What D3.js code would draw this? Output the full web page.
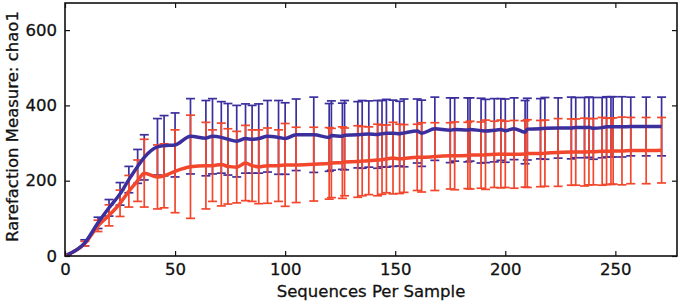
<!DOCTYPE html>
<html>
<head>
<meta charset="utf-8">
<script src="https://cdn.jsdelivr.net/npm/d3@7"></script>
<style>
  body { margin: 0; background: #fff; }
  text { font-family: "DejaVu Sans", sans-serif; fill: #111; }
</style>
</head>
<body>
<div id="chart-area"></div>
<script>
// data
const depths = [1, 9, 15, 20, 25, 29, 33, 36, 42, 45, 50, 57, 64, 67, 71, 74, 78, 82, 85, 88,
  92, 97, 100, 105, 113, 120, 121, 126, 127, 133, 135, 138, 142, 144, 146, 149, 152, 154, 160, 162,
  168, 175, 177, 183, 184, 189, 191, 195, 198, 200, 204, 209, 210, 216, 218, 224, 230, 232, 236, 238,
  240, 244, 246, 248, 249, 253, 257, 264, 271]

const blueMean = [3, 35, 88, 128, 165, 203, 238, 262, 290, 293, 295, 318, 313, 318, 315, 310, 305, 312, 310, 312,
  318, 315, 312, 322, 322, 315, 320, 318, 321, 322, 323, 324, 323, 325, 326, 326, 325, 327, 332, 326,
  338, 334, 336, 335, 336, 333, 332, 334, 336, 333, 338, 329, 337, 338, 339, 340, 340, 341, 341, 342,
  339, 341, 343, 343, 343, 343, 344, 344, 344]
const blueErr = [2, 8, 15, 22, 30, 35, 45, 60, 75, 80, 85, 100, 100, 100, 95, 95, 95, 92, 90, 92,
  95, 98, 95, 95, 100, 90, 92, 88, 92, 88, 90, 88, 90, 88, 90, 88, 86, 90, 85, 88,
  84, 86, 84, 85, 84, 86, 84, 84, 82, 84, 82, 84, 82, 80, 82, 80, 82, 80, 80, 80,
  82, 80, 80, 80, 80, 80, 78, 78, 78]

const redMean = [3, 33, 80, 108, 140, 172, 200, 220, 210, 213, 225, 237, 240, 240, 243, 238, 236, 247, 240, 237,
  240, 240, 242, 242, 244, 246, 247, 248, 250, 251, 252, 253, 255, 256, 258, 260, 258, 259, 262, 262,
  264, 266, 266, 267, 268, 268, 269, 270, 271, 270, 270, 271, 272, 272, 273, 275, 276, 276, 276, 277,
  277, 278, 278, 278, 279, 279, 280, 280, 281]
const redErr = [2, 6, 15, 28, 35, 42, 55, 90, 85, 85, 110, 137, 115, 95, 110, 100, 95, 100, 95, 98,
  100, 95, 110, 100, 98, 95, 92, 95, 90, 95, 92, 90, 95, 92, 90, 95, 92, 90, 88, 92,
  90, 88, 90, 88, 90, 88, 92, 88, 90, 88, 90, 88, 90, 88, 88, 90, 88, 88, 90, 88,
  88, 90, 88, 88, 88, 90, 88, 88, 87]

const xTicks = [0, 50, 100, 150, 200, 250]
const yTicks = [0, 200, 400, 600]

const W = 685, H = 304
const MARGIN = { LEFT: 65, RIGHT: 8, TOP: 3, BOTTOM: 48 }
const WIDTH = W - MARGIN.LEFT - MARGIN.RIGHT
const HEIGHT = H - MARGIN.TOP - MARGIN.BOTTOM

const BLUE = "#3b2f9e"
const RED = "#f2472c"

const svg = d3.select("#chart-area").append("svg")
  .attr("width", W)
  .attr("height", H)

const g = svg.append("g")
  .attr("transform", `translate(${MARGIN.LEFT}, ${MARGIN.TOP})`)

const x = d3.scaleLinear().domain([0, 278]).range([0, WIDTH])
const y = d3.scaleLinear().domain([0, 672]).range([HEIGHT, 0])

function series(mean, err) {
  return depths.map((d, i) => ({ d: d, m: mean[i], e: err[i] }))
}
const blue = series(blueMean, blueErr)
const red = series(redMean, redErr)

g.append("clipPath").attr("id", "clip")
  .append("rect").attr("width", WIDTH).attr("height", HEIGHT)

const plot = g.append("g").attr("clip-path", "url(#clip)")

function errorBars(data, color) {
  const eb = plot.append("g").attr("stroke", color).attr("stroke-width", 1.7).attr("fill", "none")
  const cap = 4.5
  data.forEach(p => {
    eb.append("line").attr("x1", x(p.d)).attr("x2", x(p.d))
      .attr("y1", y(p.m - p.e)).attr("y2", y(p.m + p.e))
    eb.append("line").attr("x1", x(p.d) - cap).attr("x2", x(p.d) + cap)
      .attr("y1", y(p.m + p.e)).attr("y2", y(p.m + p.e))
    eb.append("line").attr("x1", x(p.d) - cap).attr("x2", x(p.d) + cap)
      .attr("y1", y(p.m - p.e)).attr("y2", y(p.m - p.e))
  })
}

const line = d3.line().x(p => x(p.d)).y(p => y(p.m)).curve(d3.curveMonotoneX)

errorBars(blue, BLUE)
errorBars(red, RED)

plot.append("path").datum(red)
  .attr("d", line).attr("fill", "none").attr("stroke", RED).attr("stroke-width", 3.5)
plot.append("path").datum(blue)
  .attr("d", line).attr("fill", "none").attr("stroke", BLUE).attr("stroke-width", 3.5)

// axes, ticks pointing inward on all four sides
const tl = 5
g.append("g").attr("transform", `translate(0, ${HEIGHT})`)
  .call(d3.axisBottom(x).tickValues(xTicks).tickSizeInner(-tl).tickSizeOuter(0).tickPadding(7))
g.append("g")
  .call(d3.axisTop(x).tickValues(xTicks).tickSizeInner(-tl).tickSizeOuter(0).tickFormat(""))
g.append("g")
  .call(d3.axisLeft(y).tickValues(yTicks).tickSizeInner(-tl).tickSizeOuter(0).tickPadding(8))
g.append("g").attr("transform", `translate(${WIDTH}, 0)`)
  .call(d3.axisRight(y).tickValues(yTicks).tickSizeInner(-tl).tickSizeOuter(0).tickFormat(""))

g.selectAll(".domain").remove()
g.selectAll(".tick line").attr("stroke", "#111").attr("stroke-width", 1.2)
g.selectAll(".tick text")
  .attr("font-family", "DejaVu Sans, sans-serif")
  .attr("font-size", "16.5px")
  .attr("fill", "#111")
  .attr("stroke", "#111").attr("stroke-width", 0.3)

g.append("rect")
  .attr("width", WIDTH).attr("height", HEIGHT)
  .attr("fill", "none").attr("stroke", "#111").attr("stroke-width", 1.6)

// labels
g.append("text")
  .attr("x", WIDTH / 2)
  .attr("y", HEIGHT + 41)
  .attr("text-anchor", "middle")
  .attr("font-size", "16.5px")
  .attr("stroke", "#111").attr("stroke-width", 0.3)
  .text("Sequences Per Sample")

g.append("text")
  .attr("transform", "rotate(-90)")
  .attr("x", -(HEIGHT / 2) + 3)
  .attr("y", -47)
  .attr("text-anchor", "middle")
  .attr("font-size", "16.5px")
  .attr("stroke", "#111").attr("stroke-width", 0.3)
  .text("Rarefaction Measure: chao1")
</script>
</body>
</html>
